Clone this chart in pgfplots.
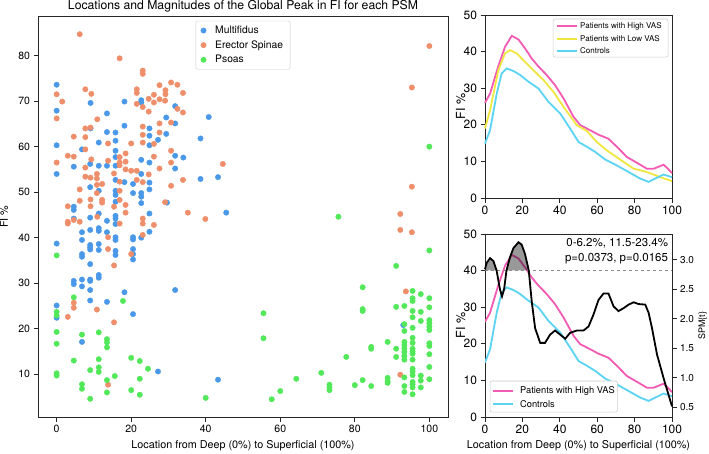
\documentclass[border=0pt]{standalone}
\usepackage{pgfplots}
\pgfplotsset{compat=1.18}
\usepackage{pgfplotstable}
\usepackage{fontspec}
\setmainfont{TeX Gyre Heros}
\definecolor{cMulti}{HTML}{4A98E8}
\definecolor{cErect}{HTML}{EE8E6A}
\definecolor{cPsoas}{HTML}{52E85A}
\definecolor{cHigh}{HTML}{F25AB4}
\definecolor{cLow}{HTML}{F0E640}
\definecolor{cCtrl}{HTML}{5AD4F2}

\pgfplotstableread{
x y
0 26.0
2.7 28.5
7.1 36.0
10.7 41.3
14.3 44.3
17.9 43.3
21.4 40.9
25 38.1
28.6 35.9
33 33.6
37.5 30.8
42 27.2
47.3 22.2
50.9 19.9
56.3 18.5
60.7 17.3
66 16.2
70.5 14.0
75.9 11.2
81.3 9.6
86.6 8.0
90.2 8.0
95.5 9.1
98.2 7.8
100 6.8
}\highvas
\pgfplotstableread{
x y
0 19.0
2.7 24.0
7.1 34.9
10.7 39.5
13.4 40.4
17 39.5
21.4 37.2
25.9 34.9
31.3 32.2
36.6 29.0
42 24.9
49.1 19.9
54.5 18.3
59.8 15.3
65.2 13.0
72.3 10.5
79.5 8.0
86.6 7.1
93.8 5.7
100 4.6
}\lowvas
\pgfplotstableread{
x y
0 14.9
2.7 18.5
6.3 28.6
8.9 34.0
11.6 35.4
15.2 34.7
18.8 33.6
23.2 31.8
28.6 29.9
33.9 26.3
40.2 23.1
45.5 19.0
50 15.3
54.5 14.0
58.9 12.6
64.3 10.5
70.5 8.9
76.8 7.1
83 5.3
87.5 4.4
91 5.3
95.5 6.4
100 5.7
}\controls
\pgfplotstableread{
x y
0 2.84
0.9 2.95
2.7 3.03
4.5 2.98
6.2 2.82
8.0 2.50
9.1 2.38
10.2 2.50
11.5 2.82
13.4 3.05
15.2 3.20
17.9 3.30
19.6 3.26
21.4 3.10
23.4 2.82
25 2.29
26.8 1.84
29.5 1.59
32.1 1.59
34.8 1.73
37.5 1.80
40.2 1.73
42.9 1.66
45.5 1.76
49.1 1.80
52.7 1.80
55.4 1.87
58 2.07
60.7 2.32
63.4 2.43
66 2.43
68.75 2.21
71.4 2.13
74.1 2.18
76.8 2.24
79.5 2.28
82.1 2.25
85.7 2.24
87.5 2.10
89.3 1.84
92 1.39
95.5 0.99
100 0.51
}\spm

\pgfplotsset{
  mpl/.style={
    scale only axis,
    tick align=outside,
    major tick length=4.5pt,
    tick style={line width=0.8pt, color=black!85},
    axis line style={line width=0.8pt, black!85},
    /pgf/number format/assume math mode=true,
    legend cell align=left,
  },
}

\begin{document}
\begin{tikzpicture}
\path[use as bounding box] (0,0) rectangle (709pt,-453pt);

% ---------------- main scatter ----------------
\begin{axis}[mpl, xtick pos=bottom, ytick pos=left,
  at={(38pt,-16pt)}, anchor=north west, width=410pt, height=401pt,
  xmin=-5, xmax=105, ymin=0.6, ymax=88.7,
  xtick={0,20,...,100}, ytick={10,20,...,80},
  tick label style={font=\fontsize{10.5}{12}\selectfont},
  label style={font=\fontsize{10.8}{12}\selectfont},
  title={Locations and Magnitudes of the Global Peak in FI for each PSM},
  title style={font=\fontsize{12.2}{14}\selectfont, anchor=base, yshift=0.5pt},
  xlabel={Location from Deep (0\%) to Superficial (100\%)},
  xlabel style={at={(0.5,0)}, anchor=base, yshift=-31pt},
  ylabel={FI \%},
  ylabel style={at={(rel axis cs:0,0.5)}, anchor=base, yshift=30pt},
  legend style={at={(0.5,0.988)}, anchor=north, draw=black!20, rounded corners=2pt,
    font=\fontsize{10.3}{12.5}\selectfont, row sep=1.5pt, inner xsep=5pt, inner ysep=3pt,
    /tikz/every odd column/.append style={column sep=7pt}},
]
\addplot[only marks, mark=*, mark size=2.7pt, color=cMulti] coordinates {
(0,73.6)(0,67.9)(0,60.3)(0,54.0)(9.1,69.6)(13.5,67.3)(18.2,69.9)(22.7,70.2)(22.7,69.7)(31.8,68.9)(40.8,66.5)(29.4,66.4)(31.8,65.1)(9.1,64.0)(18.2,64.6)(13.5,63.2)(15.8,63.1)(24.9,64.0)(29.4,62.8)(24.9,62.4)(27.2,61.5)(38.6,61.8)(15.8,61.3)(11.3,60.9)(24.9,60.3)(6.8,59.4)(15.8,59.1)(15.8,57.7)(31.8,58.0)(34.0,57.6)(22.7,57.1)(24.9,56.5)(9.0,56.2)(11.3,55.8)(13.5,55.8)(15.8,55.8)(4.6,55.6)(31.8,55.2)(22.7,54.0)(38.6,52.9)(43.3,53.3)(15.8,52.7)(18.2,52.2)(20.5,51.8)(24.9,52.1)(9.0,51.1)(11.3,50.3)(24.9,50.6)(15.8,50.3)(15.8,49.4)(20.5,49.8)(22.7,49.8)(22.7,49.0)(15.8,47.9)(22.7,47.6)(29.6,47.7)(4.6,46.8)(4.6,46.1)(11.3,45.3)(24.9,45.3)(45.5,45.5)(4.6,44.2)(9.0,44.4)(13.5,43.7)(15.8,44.8)(15.8,44.2)(15.8,43.0)(11.3,42.1)(11.3,41.5)(9.0,41.7)(6.8,41.2)(13.5,41.2)(24.9,41.3)(6.8,39.5)(15.8,40.1)(15.8,39.5)(20.5,40.1)(20.5,39.6)(22.7,40.0)(0,38.7)(9.0,38.4)(9.0,37.9)(9.0,37.4)(11.3,38.6)(11.3,37.3)(15.8,37.1)(15.8,36.2)(20.5,37.5)(20.5,36.4)(20.5,35.2)(6.8,36.4)(6.8,35.8)(9.0,34.2)(6.8,30.8)(6.8,29.3)(4.6,30.5)(4.6,29.8)(9.0,30.8)(9.0,30.5)(11.3,31.8)(11.3,31.2)(9.0,28.5)(18.2,28.0)(31.8,28.5)(0,25.1)(9.0,26.2)(13.5,25.9)(20.5,23.2)(0,22.4)(6.8,17.1)(27.2,10.6)(43.3,8.8)(93.0,20.8)
};
\addlegendentry{Multifidus}
\addplot[only marks, mark=*, mark size=2.7pt, color=cErect] coordinates {
(6.2,84.7)(16.9,79.4)(23.1,76.7)(23.1,76.0)(30.7,74.1)(32.4,73.6)(27.6,73.5)(29.2,72.4)(29.2,71.5)(33.9,71.8)(21.5,72.6)(21.5,71.8)(26.1,71.4)(7.7,72.6)(9.3,71.6)(0,71.5)(1.5,69.9)(24.7,70.5)(27.6,70.4)(26.1,69.7)(21.5,69.4)(23.1,68.7)(29.1,70.1)(32.4,68.3)(33.9,67.5)(24.7,67.7)(0,66.2)(10.9,66.0)(30.7,65.3)(27.6,65.1)(7.7,64.0)(9.1,64.2)(23.1,64.4)(27.6,63.1)(23.1,62.6)(4.6,62.2)(7.7,62.1)(13.8,60.7)(20.0,60.7)(23.1,60.9)(26.1,60.6)(7.7,59.4)(30.7,59.1)(18.5,58.5)(3.0,58.0)(4.6,57.8)(26.1,57.8)(16.9,57.7)(9.3,57.2)(18.5,56.7)(13.8,56.9)(16.9,56.5)(0,56.5)(30.7,56.5)(44.6,56.2)(16.9,55.9)(7.7,55.4)(27.6,55.2)(18.5,55.0)(20.0,54.7)(21.5,54.7)(15.4,54.1)(10.8,54.0)(24.7,53.9)(7.7,53.4)(9.1,53.2)(10.8,53.0)(21.5,52.7)(33.9,52.7)(23.1,52.2)(16.9,52.3)(12.2,51.8)(10.8,51.6)(30.7,51.4)(6.2,50.6)(16.9,50.3)(10.8,49.8)(6.2,48.1)(9.1,48.4)(12.2,48.3)(12.2,47.7)(16.9,48.3)(29.1,47.8)(3.0,46.9)(9.1,46.9)(15.4,46.8)(18.5,47.2)(35.2,45.5)(18.5,45.5)(10.9,44.6)(92.2,45.2)(23.1,44.2)(39.9,44.1)(3.0,43.5)(3.0,43.1)(4.6,43.9)(6.2,43.5)(16.9,43.1)(23.1,43.1)(26.1,42.8)(92.2,41.7)(95.3,41.2)(100,82.1)(95.3,73.0)(95.3,51.2)(13.8,40.1)(23.1,40.6)(13.8,37.5)(20.0,36.4)(15.4,33.9)(4.6,25.7)(4.6,24.6)(10.8,24.2)(3.0,22.6)(15.4,21.4)(13.8,7.7)(93.7,28.2)(92.2,9.9)
};
\addlegendentry{Erector Spinae}
\addplot[only marks, mark=*, mark size=2.7pt, color=cPsoas] coordinates {
(100,60.0)(75.6,44.6)(100,37.2)(0,36.1)(4.6,26.9)(17.8,26.1)(0,23.7)(0,22.9)(0,19.3)(6.8,18.7)(11.3,19.2)(13.5,17.7)(13.5,17.0)(13.5,15.9)(0,16.7)(4.6,13.0)(11.3,13.3)(20.0,13.6)(22.3,12.9)(24.5,11.2)(11.3,11.5)(11.3,10.5)(9.0,10.9)(0,10.2)(0,9.7)(15.6,9.6)(13.5,8.7)(22.3,9.0)(6.8,7.8)(6.8,6.8)(20.0,6.5)(13.5,6.0)(22.3,5.5)(9.0,4.6)(40.0,4.8)(55.5,23.4)(55.5,17.9)(82.1,29.1)(82.1,24.3)(82.1,23.9)(77.7,13.8)(84.4,16.0)(84.4,15.6)(71.0,10.3)(64.3,9.0)(82.1,8.7)(73.2,7.7)(73.2,7.1)(73.2,6.5)(80.0,7.6)(84.4,7.4)(60.0,6.3)(57.7,4.5)(91.1,33.8)(91.1,24.8)(88.8,17.1)(91.1,15.6)(91.1,13.8)(88.8,9.2)(88.8,8.5)(88.8,8.1)
(93.3,25.0)(93.3,21.0)(93.3,19.5)(93.3,17.1)(93.3,16.4)(93.3,15.7)(93.3,14.9)(93.3,14.0)(93.3,13.2)(93.3,9.3)(93.3,7.4)(93.3,6.1)
(95.5,28.3)(95.5,26.7)(95.5,26.1)(95.5,23.9)(95.5,22.5)(95.5,20.2)(95.5,18.0)(95.5,16.9)(95.5,15.6)(95.5,15.0)(95.5,14.5)(95.5,13.2)(95.5,11.2)(95.5,10.6)(95.5,9.8)(95.5,8.3)(95.5,7.8)(95.5,7.1)(95.5,5.6)
(97.7,27.6)(97.7,23.7)(97.7,21.7)(97.7,9.7)(97.7,8.6)(97.7,7.1)
(100,26.7)(100,24.7)(100,21.9)(100,21.2)(100,20.4)(100,19.7)(100,16.8)(100,16.2)(100,14.4)(100,11.6)(100,8.9)
};
\addlegendentry{Psoas}
\end{axis}

% ---------------- top right ----------------
\begin{axis}[mpl, xtick pos=bottom, ytick pos=left,
  at={(485pt,-15pt)}, anchor=north west, width=187pt, height=183pt,
  xmin=0, xmax=100, ymin=0, ymax=50,
  xtick={0,20,...,100}, ytick={0,10,...,50},
  tick label style={font=\fontsize{12}{14}\selectfont},
  ylabel={FI \%},
  ylabel style={font=\fontsize{12.5}{14}\selectfont, at={(rel axis cs:0,0.5)}, anchor=base, yshift=20pt},
  clip=false,
]
\addplot[cHigh, line width=1.8pt] table {\highvas};
\addplot[cLow, line width=1.8pt] table {\lowvas};
\addplot[cCtrl, line width=1.8pt] table {\controls};
% legend
\draw[draw=black!20, fill=white, rounded corners=2pt, line width=0.6pt] (rel axis cs:0.364,0.978) rectangle (rel axis cs:0.979,0.770);
\draw[cHigh, line width=1.8pt] (rel axis cs:0.385,0.940) -- (rel axis cs:0.492,0.940);
\draw[cLow, line width=1.8pt] (rel axis cs:0.385,0.871) -- (rel axis cs:0.492,0.871);
\draw[cCtrl, line width=1.8pt] (rel axis cs:0.385,0.803) -- (rel axis cs:0.492,0.803);
\node[anchor=west, font=\fontsize{8}{9.5}\selectfont, inner sep=0pt] at (rel axis cs:0.508,0.940) {Patients with High VAS};
\node[anchor=west, font=\fontsize{8}{9.5}\selectfont, inner sep=0pt] at (rel axis cs:0.508,0.871) {Patients with Low VAS};
\node[anchor=west, font=\fontsize{8}{9.5}\selectfont, inner sep=0pt] at (rel axis cs:0.508,0.803) {Controls};
\end{axis}

% ---------------- bottom right ----------------
\begin{axis}[mpl, xtick pos=bottom, ytick pos=left,
  at={(485pt,-234pt)}, anchor=north west, width=187pt, height=183pt,
  xmin=0, xmax=100, ymin=0, ymax=50,
  xtick={0,20,...,100}, ytick={0,10,...,50},
  tick label style={font=\fontsize{12}{14}\selectfont},
  xlabel={Location from Deep (0\%) to Superficial (100\%)},
  xlabel style={font=\fontsize{10.8}{12}\selectfont, at={(0.5,0)}, anchor=base, yshift=-31pt},
  ylabel={FI \%},
  ylabel style={font=\fontsize{12.5}{14}\selectfont, at={(rel axis cs:0,0.5)}, anchor=base, yshift=20pt},
]
\addplot[cHigh, line width=1.8pt] table {\highvas};
\addplot[cCtrl, line width=1.8pt] table {\controls};
\end{axis}

\begin{axis}[mpl, at={(485pt,-234pt)}, anchor=north west, width=187pt, height=183pt,
  hide x axis, axis y line*=right, ytick pos=right, yticklabel pos=right,
  xmin=0, xmax=100, ymin=0.33, ymax=3.44,
  ytick={0.5,1.0,1.5,2.0,2.5,3.0},
  yticklabel style={/pgf/number format/.cd, fixed, fixed zerofill, precision=1},
  tick label style={font=\fontsize{10}{12}\selectfont},
  ylabel={SPM\{t\}},
  ylabel style={font=\fontsize{9}{11}\selectfont, at={(rel axis cs:1,0.5)}, anchor=base, yshift=-33pt},
  clip=false,
]
\addplot[fill=black, fill opacity=0.4, draw=none] coordinates {(0,2.82)(0,2.84)(0.9,2.95)(2.7,3.03)(4.5,2.98)(6.2,2.82)};
\addplot[fill=black, fill opacity=0.4, draw=none] coordinates {(11.5,2.82)(13.4,3.05)(15.2,3.20)(17.9,3.30)(19.6,3.26)(21.4,3.10)(23.4,2.82)};
\addplot[draw=black!45, dashed, line width=0.9pt] coordinates {(0,2.82) (100,2.82)};
\addplot[black, line width=1.8pt] table {\spm};
\node[anchor=north east, align=right, font=\fontsize{11.5}{15}\selectfont, inner sep=1pt] at (rel axis cs:0.985,0.985) {0-6.2\%, 11.5-23.4\%\\p=0.0373, p=0.0165};
% legend of the FI curves
\draw[draw=black!20, fill=white, rounded corners=2pt, line width=0.6pt] (rel axis cs:0.027,0.197) rectangle (rel axis cs:0.708,0.027);
\draw[cHigh, line width=1.8pt] (rel axis cs:0.043,0.144) -- (rel axis cs:0.152,0.144);
\draw[cCtrl, line width=1.8pt] (rel axis cs:0.043,0.073) -- (rel axis cs:0.152,0.073);
\node[anchor=west, font=\fontsize{9.3}{11}\selectfont, inner sep=0pt] at (rel axis cs:0.187,0.144) {Patients with High VAS};
\node[anchor=west, font=\fontsize{9.3}{11}\selectfont, inner sep=0pt] at (rel axis cs:0.187,0.073) {Controls};
\end{axis}
\end{tikzpicture}
\end{document}
